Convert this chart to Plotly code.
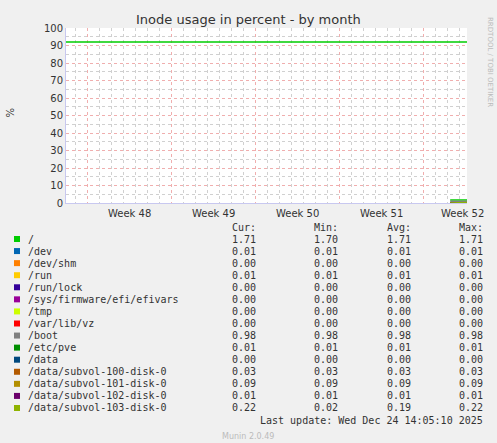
import plotly.graph_objects as go

names = ["/", "/dev", "/dev/shm", "/run", "/run/lock", "/sys/firmware/efi/efivars", "/tmp",
         "/var/lib/vz", "/boot", "/etc/pve", "/data", "/data/subvol-100-disk-0",
         "/data/subvol-101-disk-0", "/data/subvol-102-disk-0", "/data/subvol-103-disk-0"]
colors = ["#00CC00", "#0066B3", "#FF8000", "#FFCC00", "#330099", "#990099", "#CCFF00",
          "#FF0000", "#808080", "#008F00", "#00487D", "#B35A00", "#B38F00", "#6B006B", "#8FB300"]
cur = [1.71, 0.01, 0.00, 0.01, 0.00, 0.00, 0.00, 0.00, 0.98, 0.01, 0.00, 0.03, 0.09, 0.01, 0.22]
mn  = [1.70, 0.01, 0.00, 0.01, 0.00, 0.00, 0.00, 0.00, 0.98, 0.01, 0.00, 0.03, 0.09, 0.01, 0.02]
avg = [1.71, 0.01, 0.00, 0.01, 0.00, 0.00, 0.00, 0.00, 0.98, 0.01, 0.00, 0.03, 0.09, 0.01, 0.19]
mx  = [1.71, 0.01, 0.00, 0.01, 0.00, 0.00, 0.00, 0.00, 0.98, 0.01, 0.00, 0.03, 0.09, 0.01, 0.22]

# time axis in days from left edge of plot
series_days = [32.0, 33.4]
hrule_days = [0.0, 33.4]
hrule_value = [92, 92]
weeks = ["Week 48", "Week 49", "Week 50", "Week 51", "Week 52"]
week_centers = [5.25, 12.25, 19.25, 26.25, 33.0]

L, R, T, B = 66, 467, 28, 203
W, H = 497, 443
def px(x): return (x - L) / (R - L)
def py(y): return (B - y) / (B - T)

fig = go.Figure()
fig.add_trace(go.Scatter(x=hrule_days, y=hrule_value, mode="lines",
                         line=dict(color="#00CC00", width=1.5), hoverinfo="skip"))
for i, n in enumerate(names):
    fig.add_trace(go.Scatter(x=series_days, y=[mn[i], cur[i]], mode="lines",
                             line=dict(color=colors[i], width=1.5), hoverinfo="skip"))

mono = "DejaVu Sans Mono"
ann = []
def A(text, x, y, xanchor="center", font=None, xref="paper", **kw):
    ann.append(dict(text=text, x=x, y=y, xref=xref, yref="paper", showarrow=False,
                    xanchor=xanchor, yanchor="middle", font=font, **kw))

A("Inode usage in percent - by month", px(248), py(19), font=dict(family="DejaVu Sans", size=13, color="#333333"))
for w, c in zip(weeks, week_centers):
    A(w, c, py(213), xref="x", font=dict(family="DejaVu Sans", size=10, color="#333333"))
A("%", px(10), py(113), textangle=90, font=dict(family="DejaVu Sans", size=10, color="#333333"))
A("RRDTOOL / TOBI OETIKER", px(490), py(62), textangle=90, font=dict(family="DejaVu Sans", size=7, color="#BBBBBB"))
hdr_x = [258, 340, 413, 485]
for h, x in zip(["Cur:", "Min:", "Avg:", "Max:"], hdr_x):
    A(h, px(x), py(227), xanchor="right", font=dict(family=mono, size=10, color="#333333"))
shapes = []
for i, n in enumerate(names):
    yy = 239 + i * 12.07
    A(n, px(26), py(yy), xanchor="left", font=dict(family=mono, size=10, color="#333333"))
    for v, x in zip([cur[i], mn[i], avg[i], mx[i]], hdr_x):
        A(f"{v:.2f}", px(x), py(yy), xanchor="right", font=dict(family=mono, size=10, color="#333333"))
    shapes.append(dict(type="rect", xref="paper", yref="paper", x0=px(14), x1=px(20),
                       y0=py(yy - 3), y1=py(yy + 3), fillcolor=colors[i], line=dict(width=0)))
A("Last update: Wed Dec 24 14:05:10 2025", px(485), py(420), xanchor="right",
  font=dict(family=mono, size=10, color="#333333"))
A("Munin 2.0.49", px(248), py(436), font=dict(family="DejaVu Sans", size=8, color="#BBBBBB"))

fig.update_layout(
    width=W, height=H, margin=dict(l=L, r=W - R, t=T, b=H - B),
    paper_bgcolor="#F0F0F0", plot_bgcolor="#FFFFFF", showlegend=False,
    annotations=ann, shapes=shapes,
    xaxis=dict(range=[0, 33.4], showticklabels=False, ticks="", zeroline=False,
               tick0=1.75, dtick=7, showgrid=True, gridcolor="rgba(230,120,120,0.6)", griddash="dot", gridwidth=1,
               minor=dict(tick0=0.75, dtick=1, showgrid=True, gridcolor="#D0D0D0", griddash="dot"),
               showline=True, linecolor="#C8C8F0", fixedrange=True),
    yaxis=dict(range=[0, 100], tick0=0, dtick=10, zeroline=False, ticks="",
               showgrid=True, gridcolor="rgba(230,120,120,0.6)", griddash="dot",
               minor=dict(dtick=5, showgrid=True, gridcolor="#D0D0D0", griddash="dot"),
               showline=True, linecolor="#C8C8F0",
               tickfont=dict(family="DejaVu Sans", size=10, color="#333333"), fixedrange=True),
)
fig.write_html("out.html", config={"displayModeBar": False},
               post_script="document.body.style.margin='0';")
